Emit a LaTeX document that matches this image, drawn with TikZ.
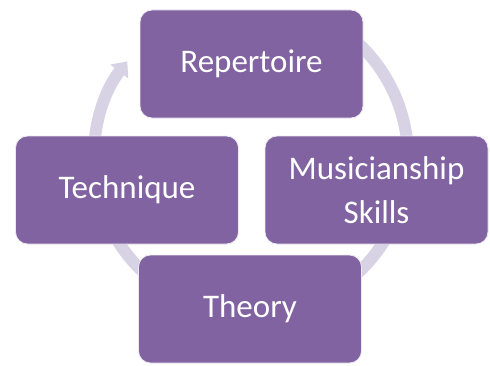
\documentclass[tikz,border=0pt]{standalone}
\usepackage{fontspec}
\setmainfont{Carlito}
\usetikzlibrary{positioning,arrows.meta,backgrounds}
\definecolor{boxpurple}{RGB}{128,99,160}
\definecolor{ringgrey}{RGB}{215,211,228}

\begin{document}
\begin{tikzpicture}[
    x=1pt, y=1pt,
    % define styles
    stage/.style={
        draw=white!85!boxpurple,
        line width=0.8pt,
        fill=boxpurple,
        rounded corners=12pt,
        minimum width=223pt,
        minimum height=108pt,
        text=white,
        align=center,
        font=\fontsize{33}{44}\selectfont
    },
    ring/.style={
        draw=ringgrey,
        line width=12pt
    },
    >={Triangle[length=13pt,width=22pt]}
]
\useasboundingbox (0,0) rectangle (490,365);

% the four stages of the cycle
\node[stage] (rep)    at (251.5,301) {Repertoire};
\node[stage] (mus)    at (376.5,175) {Musicianship\\Skills};
\node[stage] (tech)   at (127,175)   {Technique};
\node[stage] (theory) at (250,56)    {Theory};

% centre of the ring
\coordinate (ctr) at (251,207);

% arcs of the ring, behind the stages
\begin{scope}[on background layer]
\draw[ring,->] (ctr) ++(190:157) arc[start angle=190,end angle=142,radius=157];
\draw[ring] (ctr) ++(60:157) arc[start angle=60,end angle=5,radius=157];
\draw[ring] (ctr) ++(-10:157) arc[start angle=-10,end angle=-60,radius=157];
\draw[ring] (ctr) ++(-120:157) arc[start angle=-120,end angle=-170,radius=157];
\end{scope}
\end{tikzpicture}
\end{document}
